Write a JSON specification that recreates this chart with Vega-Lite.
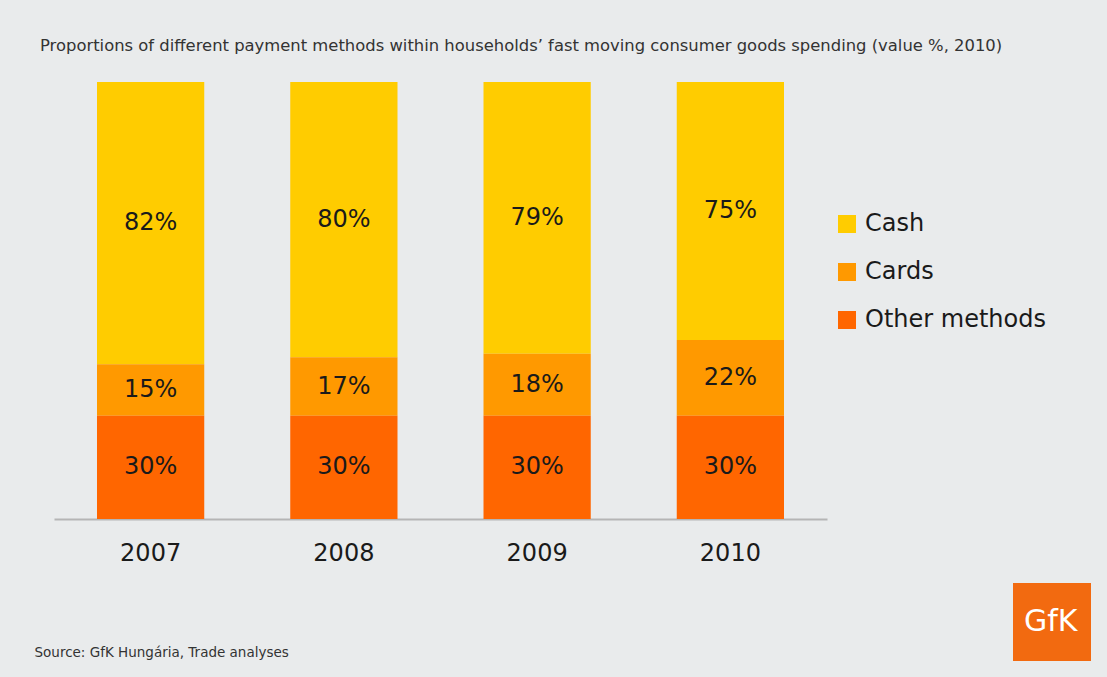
{
  "$schema": "https://vega.github.io/schema/vega-lite/v6.json",
  "width": 773,
  "height": 437,
  "autosize": {"type": "none"},
  "padding": {"left": 54, "top": 82, "right": 280, "bottom": 158},
  "background": "#e9ebec",
  "config": {"view": {"stroke": null}, "font": "DejaVu Sans"},
  "title": {
    "text": "Proportions of different payment methods within households’ fast moving consumer goods spending (value %, 2010)",
    "anchor": "start",
    "frame": "group",
    "dx": -14,
    "offset": 28,
    "fontSize": 16.4,
    "font": "DejaVu Sans",
    "fontWeight": "normal",
    "color": "#333333",
    "limit": 1100
  },
  "datasets": {
    "payments": [
      {"year": "2007", "method": "Cash", "rank": 3, "value": 82, "label": "82%"},
      {"year": "2007", "method": "Cards", "rank": 2, "value": 15, "label": "15%"},
      {"year": "2007", "method": "Other methods", "rank": 1, "value": 30, "label": "30%"},
      {"year": "2008", "method": "Cash", "rank": 3, "value": 80, "label": "80%"},
      {"year": "2008", "method": "Cards", "rank": 2, "value": 17, "label": "17%"},
      {"year": "2008", "method": "Other methods", "rank": 1, "value": 30, "label": "30%"},
      {"year": "2009", "method": "Cash", "rank": 3, "value": 79, "label": "79%"},
      {"year": "2009", "method": "Cards", "rank": 2, "value": 18, "label": "18%"},
      {"year": "2009", "method": "Other methods", "rank": 1, "value": 30, "label": "30%"},
      {"year": "2010", "method": "Cash", "rank": 3, "value": 75, "label": "75%"},
      {"year": "2010", "method": "Cards", "rank": 2, "value": 22, "label": "22%"},
      {"year": "2010", "method": "Other methods", "rank": 1, "value": 30, "label": "30%"}
    ],
    "brand": [{"brand": "GfK"}]
  },
  "layer": [
    {
      "data": {"name": "payments"},
      "transform": [
        {"stack": "value", "groupby": ["year"], "sort": [{"field": "rank", "order": "ascending"}], "as": ["v0", "v1"]}
      ],
      "mark": {"type": "bar"},
      "encoding": {
        "x": {
          "field": "year",
          "type": "nominal",
          "scale": {"paddingInner": 0.445, "paddingOuter": 0.2225},
          "axis": {
            "labelAngle": 0,
            "labelFontSize": 24,
            "labelFont": "DejaVu Sans",
            "labelColor": "#1a1a1a",
            "labelPadding": 22,
            "ticks": false,
            "domainColor": "#b5b5b5",
            "domainWidth": 2,
            "title": "Source: GfK Hungária, Trade analyses",
            "titleAnchor": "start",
            "titleAlign": "left",
            "titleX": -20,
            "titleY": 137,
            "titleBaseline": "alphabetic",
            "titleFontSize": 13.5,
            "titleFont": "DejaVu Sans",
            "titleFontWeight": "normal",
            "titleColor": "#333333"
          }
        },
        "y": {
          "field": "v0",
          "type": "quantitative",
          "scale": {"domain": [0, 127], "nice": false},
          "axis": null
        },
        "y2": {"field": "v1"},
        "color": {
          "field": "method",
          "type": "nominal",
          "scale": {"domain": ["Cash", "Cards", "Other methods"], "range": ["#ffcc00", "#ff9900", "#ff6600"]},
          "legend": {
            "title": null,
            "orient": "none",
            "legendX": 781,
            "legendY": 130,
            "padding": 0,
            "symbolType": "square",
            "symbolSize": 324,
            "symbolStrokeWidth": 0,
            "labelFontSize": 24,
            "labelFont": "DejaVu Sans",
            "labelColor": "#1a1a1a",
            "labelOffset": 6,
            "labelLimit": 300,
            "rowPadding": 24
          }
        }
      }
    },
    {
      "data": {"name": "payments"},
      "transform": [
        {"stack": "value", "groupby": ["year"], "sort": [{"field": "rank", "order": "ascending"}], "as": ["v0", "v1"]},
        {"calculate": "(datum.v0 + datum.v1) / 2", "as": "mid"}
      ],
      "mark": {"type": "text", "fontSize": 24, "font": "DejaVu Sans", "color": "#1a1a1a", "baseline": "middle"},
      "encoding": {
        "x": {"field": "year", "type": "nominal"},
        "y": {"field": "mid", "type": "quantitative"},
        "text": {"field": "label"}
      }
    },
    {
      "data": {"name": "brand"},
      "mark": {"type": "point", "filled": true, "opacity": 0, "color": "#f26a10"},
      "encoding": {
        "shape": {
          "field": "brand",
          "type": "nominal",
          "scale": {"range": ["square"]},
          "legend": {
            "title": null,
            "orient": "none",
            "legendX": 959,
            "legendY": 501,
            "padding": 0,
            "symbolSize": 6084,
            "symbolFillColor": "#f26a10",
            "symbolStrokeWidth": 0,
            "symbolOpacity": 1,
            "labelFontSize": 30,
            "labelFont": "DejaVu Sans",
            "labelColor": "#ffffff",
            "labelOffset": -67,
            "encode": {"symbols": {"update": {"opacity": {"value": 1}, "fill": {"value": "#f26a10"}}}}
          }
        }
      }
    }
  ]
}
